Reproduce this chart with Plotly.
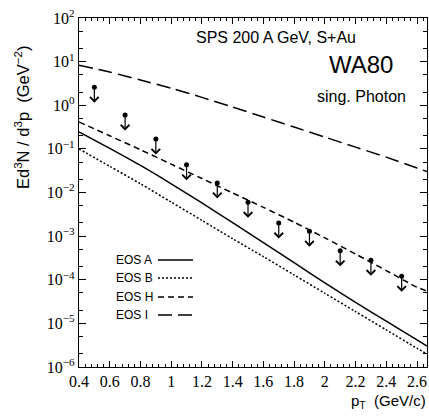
import numpy as np
import plotly.graph_objects as go

# transverse momentum grid for the hydro curves (GeV/c)
pt_grid = [0.4, 0.6, 0.8, 1.0, 1.2, 1.4, 1.6, 1.8, 2.0, 2.2, 2.4, 2.6, 2.665]

# log10 of the photon yield for each equation of state
log_eos_a = [-0.61, -0.99, -1.38, -1.80, -2.24, -2.69, -3.15, -3.61, -4.07, -4.52, -4.95, -5.38, -5.52]
log_eos_b = [-1.00, -1.40, -1.80, -2.22, -2.64, -3.06, -3.47, -3.89, -4.31, -4.73, -5.15, -5.57, -5.70]
log_eos_h = [-0.385, -0.70, -1.02, -1.35, -1.68, -2.01, -2.34, -2.68, -3.04, -3.41, -3.79, -4.17, -4.26]
log_eos_i = [0.92, 0.76, 0.58, 0.39, 0.18, -0.04, -0.27, -0.50, -0.73, -0.96, -1.19, -1.44, -1.52]

# WA80 single-photon upper limits
pt_data = [0.5, 0.7, 0.9, 1.1, 1.3, 1.5, 1.7, 1.9, 2.1, 2.3, 2.5]
upper_limits = [2.6, 0.6, 0.168, 0.043, 0.0166, 0.006, 0.002, 0.0013, 4.6e-4, 2.8e-4, 1.2e-4]

x_ticks = [0.4, 0.6, 0.8, 1.0, 1.2, 1.4, 1.6, 1.8, 2.0, 2.2, 2.4, 2.6]
y_exponents = [-6, -5, -4, -3, -2, -1, 0, 1, 2]
legend_names = ["EOS A", "EOS B", "EOS H", "EOS I"]

W, H = 429, 416
L, R, T, B = 79, 427, 18, 367


def px(xpix):
    return (xpix - L) / (R - L)


def py(ypix):
    return (B - ypix) / (B - T)


styles = [
    dict(dash="solid", width=1.5),
    dict(dash="2px,2px", width=1.5),
    dict(dash="6px,4px", width=1.5),
    dict(dash="14px,6px", width=1.5),
]

fig = go.Figure()
for name, logs, st in zip(legend_names, [log_eos_a, log_eos_b, log_eos_h, log_eos_i], styles):
    fig.add_trace(go.Scatter(
        x=pt_grid, y=[10 ** v for v in logs], mode="lines", name=name,
        line=dict(color="black", width=st["width"], dash=st["dash"],
                  shape="spline", smoothing=0.7),
        showlegend=False,
    ))

fig.add_trace(go.Scatter(
    x=pt_data, y=upper_limits, mode="markers",
    marker=dict(color="black", size=5, symbol="circle"),
    showlegend=False,
))

annotations = []
for xv, yv in zip(pt_data, upper_limits):
    annotations.append(dict(
        x=xv, y=np.log10(yv), xref="x", yref="y", text="",
        showarrow=True, ax=0, ay=17, arrowside="start",
        startarrowhead=4, startarrowsize=1.4, arrowwidth=1.2,
        arrowcolor="black", startstandoff=0, standoff=0,
    ))

sans = "Liberation Sans, Arial, sans-serif"
serif = "Liberation Serif, Times New Roman, serif"


def label(xpix, ypix, text, size, xanchor="center", angle=0):
    return dict(x=px(xpix), y=py(ypix), xref="paper", yref="paper",
                xanchor=xanchor, yanchor="middle", text=text, textangle=angle,
                showarrow=False, font=dict(family=sans, size=size, color="black"))


annotations += [
    label(276, 37, "SPS 200 A GeV, S+Au", 16),
    label(361, 65, "WA80", 24),
    label(361, 96, "sing. Photon", 16),
    label(22, 118, "Ed<sup>3</sup>N / d<sup>3</sup>p  (GeV<sup>−2</sup>)", 16.5, angle=-90),
    label(428, 401, "p<sub>T</sub>  (GeV/c)", 15, xanchor="right"),
]

shapes = []
legend_rows = [260, 278, 297, 315]
for name, row, st in zip(legend_names, legend_rows, styles):
    annotations.append(label(114, row, name, 12, xanchor="left"))
    shapes.append(dict(
        type="line", xref="paper", yref="paper",
        x0=px(158), x1=px(193), y0=py(row), y1=py(row),
        line=dict(color="black", width=1.3, dash=st["dash"]),
    ))

fig.update_layout(
    width=W, height=H,
    margin=dict(l=L, r=W - R, t=T, b=H - B),
    paper_bgcolor="white", plot_bgcolor="white",
    annotations=annotations, shapes=shapes,
    showlegend=False,
)

fig.update_xaxes(
    range=[0.4, 2.665], tickvals=x_ticks, ticktext=[f"{v:g}" for v in x_ticks],
    ticks="inside", ticklen=6, tickwidth=1, tickcolor="black",
    showline=True, linecolor="black", linewidth=1.2, mirror="ticks",
    showgrid=False, zeroline=False,
    tickfont=dict(family=serif, size=16, color="black"),
    minor=dict(dtick=0.04, tick0=0.4, ticks="inside", ticklen=3, tickcolor="black", showgrid=False),
)
fig.update_yaxes(
    type="log", range=[-6, 2],
    tickvals=[10.0 ** e for e in y_exponents],
    ticktext=[f"10<sup>{str(e).replace('-', '−')}</sup>" for e in y_exponents],
    ticks="inside", ticklen=7, tickwidth=1, tickcolor="black",
    showline=True, linecolor="black", linewidth=1.2, mirror="ticks",
    showgrid=False, zeroline=False,
    tickfont=dict(family=serif, size=16, color="black"),
    minor=dict(ticks="inside", ticklen=4, tickcolor="black", showgrid=False),
)

fig.write_html("out.html")
